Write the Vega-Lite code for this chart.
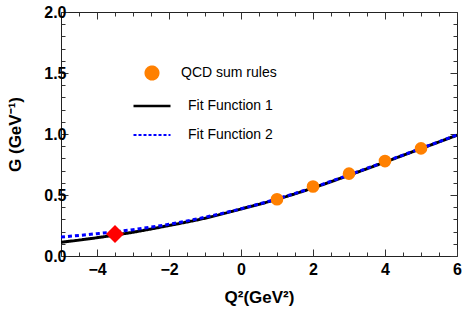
{
  "$schema": "https://vega.github.io/schema/vega-lite/v6.json",
  "width": 396,
  "height": 244,
  "autosize": {"type": "none"},
  "padding": {"left": 61, "top": 12, "right": 6, "bottom": 56},
  "config": {
    "view": {"stroke": "#222", "strokeWidth": 1},
    "font": "Liberation Sans",
    "axis": {
      "domain": false,
      "grid": false,
      "labelFont": "Liberation Sans",
      "labelFontWeight": "bold",
      "labelFontSize": 16,
      "labelColor": "#000",
      "titleFont": "Liberation Sans",
      "titleFontWeight": "bold",
      "titleFontSize": 17,
      "titleColor": "#000",
      "tickColor": "#333",
      "labelOverlap": false,
      "labelFlush": false,
      "tickCount": 100
    }
  },
  "datasets": {
    "fits": [
      {"Q2": -5, "G": 0.112, "series": "Fit Function 1"},
      {"Q2": -4, "G": 0.150, "series": "Fit Function 1"},
      {"Q2": -3, "G": 0.195, "series": "Fit Function 1"},
      {"Q2": -2, "G": 0.250, "series": "Fit Function 1"},
      {"Q2": -1, "G": 0.310, "series": "Fit Function 1"},
      {"Q2": 0, "G": 0.385, "series": "Fit Function 1"},
      {"Q2": 1, "G": 0.465, "series": "Fit Function 1"},
      {"Q2": 2, "G": 0.558, "series": "Fit Function 1"},
      {"Q2": 3, "G": 0.662, "series": "Fit Function 1"},
      {"Q2": 4, "G": 0.770, "series": "Fit Function 1"},
      {"Q2": 5, "G": 0.880, "series": "Fit Function 1"},
      {"Q2": 6, "G": 0.990, "series": "Fit Function 1"},
      {"Q2": -5, "G": 0.155, "series": "Fit Function 2"},
      {"Q2": -4, "G": 0.183, "series": "Fit Function 2"},
      {"Q2": -3, "G": 0.216, "series": "Fit Function 2"},
      {"Q2": -2, "G": 0.260, "series": "Fit Function 2"},
      {"Q2": -1, "G": 0.318, "series": "Fit Function 2"},
      {"Q2": 0, "G": 0.387, "series": "Fit Function 2"},
      {"Q2": 1, "G": 0.468, "series": "Fit Function 2"},
      {"Q2": 2, "G": 0.561, "series": "Fit Function 2"},
      {"Q2": 3, "G": 0.665, "series": "Fit Function 2"},
      {"Q2": 4, "G": 0.773, "series": "Fit Function 2"},
      {"Q2": 5, "G": 0.882, "series": "Fit Function 2"},
      {"Q2": 6, "G": 0.992, "series": "Fit Function 2"}
    ],
    "qcd": [
      {"Q2": 1, "G": 0.465, "series": "QCD sum rules"},
      {"Q2": 2, "G": 0.570, "series": "QCD sum rules"},
      {"Q2": 3, "G": 0.675, "series": "QCD sum rules"},
      {"Q2": 4, "G": 0.778, "series": "QCD sum rules"},
      {"Q2": 5, "G": 0.882, "series": "QCD sum rules"}
    ],
    "exp": [{"Q2": -3.5, "G": 0.18}]
  },
  "layer": [
    {
      "layer": [
        {
          "data": {"name": "fits"},
          "mark": {"type": "line", "interpolate": "monotone", "strokeWidth": 3, "clip": true},
          "encoding": {
            "x": {
              "field": "Q2", "type": "quantitative",
              "scale": {"domain": [-5, 6], "nice": false, "zero": false},
              "axis": {
                "orient": "bottom",
                "values": [-5, -4.5, -4, -3.5, -3, -2.5, -2, -1.5, -1, -0.5, 0, 0.5, 1, 1.5, 2, 2.5, 3, 3.5, 4, 4.5, 5, 5.5, 6],
                "tickCount": 100,
                "tickSize": {"condition": {"test": "datum.value % 2 === 0", "value": -7}, "value": -4},
                "labelExpr": "datum.value % 2 === 0 ? (datum.value < 0 ? '−' + abs(datum.value) : '' + datum.value) : ''",
                "labelOverlap": false,
                "labelPadding": 12,
                "title": "Q²(GeV²)",
                "titlePadding": 9
              }
            },
            "y": {
              "field": "G", "type": "quantitative",
              "scale": {"domain": [0, 2], "nice": false, "zero": false},
              "axis": {
                "orient": "left",
                "values": [0, 0.1, 0.2, 0.3, 0.4, 0.5, 0.6, 0.7, 0.8, 0.9, 1, 1.1, 1.2, 1.3, 1.4, 1.5, 1.6, 1.7, 1.8, 1.9, 2],
                "tickCount": 100,
                "tickSize": {"condition": {"test": "abs(datum.value*2 - round(datum.value*2)) < 1e-6", "value": -7}, "value": -4},
                "labelExpr": "abs(datum.value*2 - round(datum.value*2)) < 1e-6 ? format(datum.value, '.1f') : ''",
                "labelOverlap": false,
                "labelPadding": 2,
                "title": "G (GeV⁻¹)",
                "titlePadding": 19
              }
            },
            "color": {
              "field": "series", "type": "nominal",
              "scale": {"domain": ["QCD sum rules", "Fit Function 1", "Fit Function 2"], "range": ["#FF8000", "#000000", "#0000FF"]},
              "legend": {
                "orient": "none",
                "legendX": 84,
                "legendY": 54,
                "title": null,
                "padding": 0,
                "rowPadding": 15,
                "labelFont": "Liberation Sans",
                "labelFontSize": 14,
                "labelColor": "#000",
                "labelOffset": 22,
                "symbolSize": 900,
                "encode": {
                  "symbols": {
                    "update": {
                      "shape": {"signal": "datum.value === 'QCD sum rules' ? 'circle' : 'stroke'"},
                      "size": {"signal": "datum.value === 'QCD sum rules' ? 170 : 1369"},
                      "fill": {"signal": "datum.value === 'QCD sum rules' ? '#FF8000' : 'transparent'"},
                      "stroke": {"signal": "datum.value === 'QCD sum rules' ? 'transparent' : (datum.value === 'Fit Function 1' ? '#000000' : '#0000FF')"},
                      "strokeWidth": {"signal": "datum.value === 'Fit Function 1' ? 2.5 : 2"},
                      "strokeDash": {"signal": "datum.value === 'Fit Function 2' ? [3, 2] : [1, 0]"},
                      "opacity": {"value": 1}
                    }
                  },
                  "labels": {
                    "update": {
                      "dx": {"signal": "datum.value === 'QCD sum rules' ? 0 : 7"}
                    }
                  }
                }
              }
            },
            "strokeDash": {
              "field": "series", "type": "nominal",
              "scale": {"domain": ["Fit Function 1", "Fit Function 2"], "range": [[1, 0], [4, 3]]},
              "legend": null
            }
          }
        },
        {
          "data": {"name": "qcd"},
          "mark": {"type": "point", "filled": true, "shape": "circle", "size": 160, "opacity": 1},
          "encoding": {
            "x": {"field": "Q2", "type": "quantitative"},
            "y": {"field": "G", "type": "quantitative"},
            "color": {"field": "series", "type": "nominal"}
          }
        },
        {
          "data": {"name": "exp"},
          "mark": {"type": "point", "filled": true, "shape": "diamond", "size": 324, "opacity": 1, "color": "#FF0000"},
          "encoding": {
            "x": {"field": "Q2", "type": "quantitative"},
            "y": {"field": "G", "type": "quantitative"}
          }
        }
      ]
    },
    {
      "data": {"values": [{"a": 0}]},
      "mark": {"type": "point", "opacity": 0},
      "encoding": {
        "x": {
          "datum": 0, "type": "quantitative",
          "scale": {"domain": [-5, 6], "nice": false, "zero": false},
          "axis": {
            "orient": "top",
            "values": [-5, -4.5, -4, -3.5, -3, -2.5, -2, -1.5, -1, -0.5, 0, 0.5, 1, 1.5, 2, 2.5, 3, 3.5, 4, 4.5, 5, 5.5, 6],
            "tickCount": 100,
            "tickSize": {"condition": {"test": "datum.value % 2 === 0", "value": -7}, "value": -4},
            "labels": false,
            "title": null
          }
        },
        "y": {
          "datum": 0, "type": "quantitative",
          "scale": {"domain": [0, 2], "nice": false, "zero": false},
          "axis": {
            "orient": "right",
            "values": [0, 0.1, 0.2, 0.3, 0.4, 0.5, 0.6, 0.7, 0.8, 0.9, 1, 1.1, 1.2, 1.3, 1.4, 1.5, 1.6, 1.7, 1.8, 1.9, 2],
            "tickCount": 100,
            "tickSize": {"condition": {"test": "abs(datum.value*2 - round(datum.value*2)) < 1e-6", "value": -7}, "value": -4},
            "labels": false,
            "title": null
          }
        }
      }
    }
  ],
  "resolve": {"scale": {"x": "independent", "y": "independent"}}
}
